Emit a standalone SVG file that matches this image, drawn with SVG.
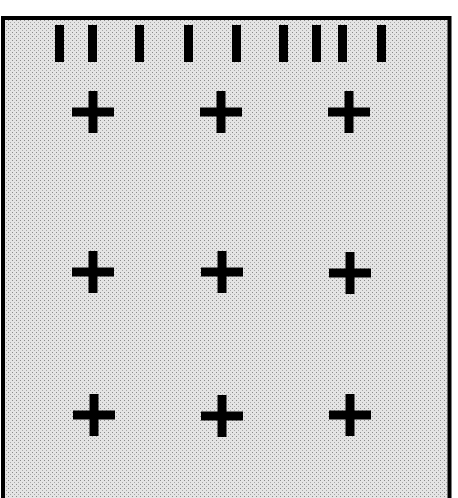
<svg xmlns="http://www.w3.org/2000/svg" width="458" height="498" viewBox="0 0 458 498">
  <defs>
    <pattern id="stipple" width="4" height="4" patternUnits="userSpaceOnUse">
      <rect width="4" height="4" fill="#e4e4e4"/>
      <rect x="0" y="0" width="1" height="1" fill="#8a8a8a"/>
      <rect x="2" y="2" width="1" height="1" fill="#a8a8a8"/>
    </pattern>
    <path id="plus" d="M-21,-4.5 H-4.5 V-21 H4.5 V-4.5 H21 V4.5 H4.5 V21 H-4.5 V4.5 H-21 Z" fill="#000"/>
  </defs>
  <style>
    .tick { fill: #000; }
  </style>
  <rect width="458" height="498" fill="#fff"/>
  <rect x="3" y="18" width="446.5" height="490" fill="url(#stipple)" stroke="#000" stroke-width="4"/>
  <g id="ticks">
    <rect class="tick" x="55" y="25" width="9" height="37"/>
    <rect class="tick" x="88" y="25" width="9" height="37"/>
    <rect class="tick" x="135" y="25" width="9" height="37"/>
    <rect class="tick" x="184" y="25" width="9" height="37"/>
    <rect class="tick" x="232" y="25" width="9" height="37"/>
    <rect class="tick" x="279" y="25" width="9" height="37"/>
    <rect class="tick" x="312" y="25" width="9" height="37"/>
    <rect class="tick" x="338" y="25" width="9" height="37"/>
    <rect class="tick" x="377" y="25" width="9" height="37"/>
  </g>
  <g id="pluses">
    <use href="#plus" x="93" y="112"/>
    <use href="#plus" x="221" y="112"/>
    <use href="#plus" x="349" y="112"/>
    <use href="#plus" x="93" y="272"/>
    <use href="#plus" x="222" y="272"/>
    <use href="#plus" x="350" y="273"/>
    <use href="#plus" x="94" y="415"/>
    <use href="#plus" x="222" y="416"/>
    <use href="#plus" x="350" y="415"/>
  </g>
</svg>
